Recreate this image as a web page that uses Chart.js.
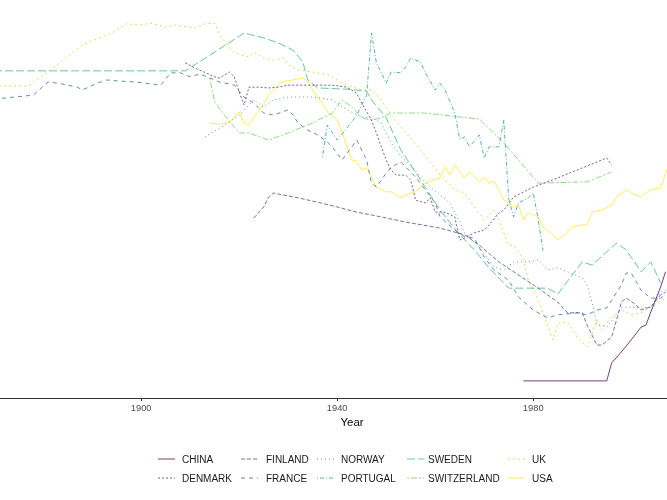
<!DOCTYPE html>
<html>
<head>
<meta charset="utf-8">
<script src="https://cdn.jsdelivr.net/npm/chart.js@4.4.0/dist/chart.umd.min.js"></script>
<style>
  html, body { margin: 0; padding: 0; background: #fff; }
</style>
</head>
<body>
<canvas id="rateChart" width="667" height="500"></canvas>
<script>
// Countries, in legend order (column by column)
const countries = ['CHINA', 'DENMARK', 'FINLAND', 'FRANCE', 'NORWAY',
                   'PORTUGAL', 'SWEDEN', 'SWITZERLAND', 'UK', 'USA'];

const yearTicks = [1900, 1940, 1980];

// [year, value] pairs (y axis is unlabelled, 0-100 index)
const CHINA = [[1978,4.3],[1995,4.3],[1996,8.8],[1998,11.6],[2000,14.6],[2002,17.8],[2003,18.3],[2004,21.6],[2006,27.9],[2007,31.7]];

const DENMARK = [[1909,84.2],[1911,82.9],[1915,80.7],[1916,80.4],[1918,81.9],[1919,80.7],[1920,76.9],[1921,73.6],[1922,78.1],[1924,78.1],
  [1926,77.9],[1928,78.1],[1930,78.6],[1935,78.6],[1939,78.6],[1942,78.1],[1944,76.6],[1945,74.1],[1947,69.8],[1948,66.6],
  [1949,63.1],[1950,59.8],[1951,57.3],[1952,56.0],[1954,56.0],[1955,54.8],[1956,49.7],[1958,49.0],[1959,50.3],[1960,46.7],
  [1962,46.7],[1964,45.5],[1965,39.7],[1966,40.2],[1968,41.5],[1970,42.2],[1971,43.5],[1973,46.5],[1974,47.2],[1976,50.5],
  [1980,53.0],[1984,54.8],[1988,56.8],[1992,58.8],[1995,60.3],[1996,58.5]];

const FINLAND = [[1923,45.2],[1925,48.0],[1926,50.5],[1927,51.5],[1929,51.0],[1932,50.3],[1936,49.2],[1940,48.0],[1944,46.7],[1947,46.0],
  [1954,44.2],[1961,42.7],[1966,41.0],[1969,38.4],[1973,34.2],[1977,30.9],[1981,27.6],[1985,24.1],[1987,21.4],[1990,21.4],
  [1991,18.3],[1993,13.3],[1994,13.3],[1996,15.3],[1997,19.6],[1998,24.1],[1999,25.1],[2001,23.4],[2002,22.1],[2004,22.9],
  [2006,25.9],[2007,26.6]];

const FRANCE = [[1870,75.1],[1874,75.6],[1878,76.1],[1881,79.4],[1883,79.1],[1887,78.1],[1888,77.4],[1891,79.1],[1893,79.9],[1896,79.6],
  [1899,79.4],[1902,78.9],[1904,78.6],[1906,81.7],[1908,81.7],[1910,80.7],[1912,81.4],[1916,79.4],[1919,78.6],[1921,75.6],
  [1923,74.1],[1925,71.6],[1927,71.1],[1930,72.4],[1931,71.1],[1932,69.1],[1934,67.3],[1936,66.1],[1938,64.3],[1939,63.1],
  [1941,59.8],[1944,64.8],[1946,59.8],[1947,54.0],[1948,53.0],[1950,56.5],[1951,58.0],[1953,59.3],[1954,58.0],[1956,55.5],
  [1958,52.3],[1960,49.0],[1961,45.5],[1964,42.2],[1966,40.5],[1968,40.2],[1970,35.4],[1972,32.2],[1975,29.6],[1977,25.4],
  [1980,22.1],[1983,20.1],[1985,20.9],[1989,21.4],[1991,20.9],[1993,22.1],[1995,22.6],[1996,24.6],[1998,28.4],[1999,31.4],
  [2000,31.4],[2002,27.1],[2004,25.1],[2006,25.1],[2007,25.9]];

const NORWAY = [[1913,65.6],[1916,67.8],[1918,69.3],[1920,71.1],[1922,73.6],[1923,74.9],[1925,73.1],[1927,74.9],[1930,75.6],[1935,75.6],
  [1939,74.9],[1942,72.4],[1945,70.6],[1947,70.4],[1949,69.1],[1951,64.1],[1953,60.6],[1955,58.5],[1957,55.5],[1959,53.0],
  [1961,51.0],[1963,49.0],[1965,44.2],[1966,41.5],[1969,37.9],[1972,32.9],[1974,32.2],[1976,34.2],[1979,34.2],[1981,34.7],
  [1983,32.2],[1985,32.7],[1987,31.7],[1990,30.2],[1991,28.4],[1992,24.1],[1993,18.3],[1994,18.3],[1995,17.8],[1998,22.6],
  [2000,22.9],[2002,22.6],[2004,22.9],[2006,26.6],[2007,27.1]];

const PORTUGAL = [[1937,60.6],[1938,68.6],[1940,64.8],[1942,67.8],[1944,71.1],[1946,76.0],[1947,91.7],[1948,84.2],[1949,81.7],[1950,79.1],
  [1951,81.9],[1953,81.7],[1954,83.2],[1955,85.4],[1957,84.4],[1958,81.7],[1960,77.4],[1961,79.1],[1962,77.4],[1964,71.6],
  [1965,65.0],[1966,65.6],[1967,63.1],[1969,66.1],[1970,60.3],[1971,63.1],[1973,63.1],[1974,69.8],[1975,50.0],[1976,45.5],
  [1977,49.0],[1979,50.3],[1980,51.5],[1981,45.0],[1982,37.0]];

const SWEDEN = [[1870,82.2],[1909,82.2],[1915,86.9],[1921,91.7],[1925,90.5],[1928,89.2],[1931,87.4],[1933,84.4],[1934,79.9],[1936,77.9],
  [1942,77.6],[1946,77.1],[1947,74.9],[1950,70.4],[1953,62.3],[1957,54.8],[1961,47.2],[1965,41.0],[1968,37.2],[1971,32.7],
  [1975,27.6],[1983,27.6],[1985,26.1],[1990,34.2],[1992,33.4],[1997,38.9],[1999,37.2],[2002,31.7],[2004,34.2],[2006,28.9]];

const SWITZERLAND = [[1914,80.4],[1915,74.4],[1917,71.1],[1920,66.6],[1922,66.6],[1926,64.8],[1930,66.6],[1935,69.1],[1939,71.6],[1941,74.9],
  [1943,73.1],[1945,70.4],[1947,69.8],[1949,70.4],[1951,71.6],[1958,71.6],[1965,70.6],[1969,70.1],[1974,64.1],[1977,59.8],
  [1981,54.0],[1991,54.3],[1996,56.8]];

const UK = [[1870,78.4],[1877,78.4],[1881,81.9],[1888,88.7],[1894,91.7],[1897,94.0],[1900,93.7],[1902,94.2],[1905,93.2],[1907,93.7],
  [1911,93.0],[1913,94.0],[1915,94.2],[1916,91.2],[1919,86.7],[1922,85.7],[1923,86.9],[1925,85.4],[1927,84.9],[1929,85.4],
  [1930,83.7],[1932,82.4],[1935,81.9],[1938,81.2],[1942,78.6],[1945,77.4],[1947,77.4],[1949,74.9],[1951,71.1],[1953,68.1],
  [1957,62.3],[1961,56.0],[1964,52.3],[1966,51.5],[1968,48.0],[1970,44.7],[1972,47.2],[1973,44.7],[1975,38.4],[1976,38.4],
  [1978,34.7],[1979,29.6],[1981,24.6],[1984,14.6],[1985,18.8],[1987,19.1],[1989,15.3],[1991,12.8],[1993,19.6],[1994,17.1],
  [1996,20.4],[1998,22.1],[2000,20.9],[2002,21.4],[2005,23.4],[2007,25.1]];

const USA = [[1914,69.1],[1916,68.8],[1918,69.3],[1920,71.9],[1921,69.1],[1922,68.6],[1923,70.4],[1925,73.9],[1926,76.1],[1928,78.6],
  [1929,79.6],[1931,79.9],[1933,80.4],[1934,79.4],[1935,77.4],[1936,75.4],[1937,74.1],[1938,71.9],[1940,69.8],[1941,66.8],
  [1942,63.1],[1943,59.8],[1944,59.5],[1945,57.3],[1946,57.8],[1947,55.5],[1948,53.0],[1950,51.8],[1951,51.8],[1953,50.3],
  [1955,51.5],[1956,51.8],[1958,54.0],[1961,55.3],[1962,58.0],[1963,56.0],[1964,58.5],[1966,55.3],[1967,56.8],[1968,55.5],
  [1969,54.3],[1970,55.5],[1971,54.0],[1972,54.5],[1973,52.3],[1974,49.7],[1975,49.0],[1976,48.0],[1977,48.5],[1978,44.7],
  [1979,46.5],[1981,45.5],[1982,43.0],[1984,41.0],[1985,39.7],[1986,40.5],[1988,43.0],[1990,43.5],[1991,43.5],[1992,46.7],
  [1994,47.2],[1996,48.5],[1997,50.5],[1999,52.3],[2000,51.5],[2002,50.5],[2003,51.5],[2004,52.3],[2006,52.8],[2007,56.5],
  [2008,59.8]];

const seriesData = [CHINA, DENMARK, FINLAND, FRANCE, NORWAY, PORTUGAL, SWEDEN, SWITZERLAND, UK, USA];

// viridis, slightly transparent
const lineColors = ['rgba(68,1,84,0.75)', 'rgba(72,40,120,0.75)', 'rgba(62,74,137,0.75)', 'rgba(49,104,142,0.75)',
  'rgba(38,130,142,0.75)', 'rgba(31,158,137,0.75)', 'rgba(53,183,121,0.75)', 'rgba(109,205,89,0.75)',
  'rgba(180,222,44,0.75)', 'rgba(253,231,37,0.75)'];
const lineDashes = [[], [2, 2], [4, 2], [4, 4], [1, 3], [1, 2, 4, 2], [8, 3], [2, 2, 6, 2], [2, 3], []];

// legend layout
const legendKeyX = [158, 241, 317, 407, 508];
const legendTextX = [182, 266, 341, 428, 532];
const legendRowY = [462.5, 481.5];

const bottomText = {
  id: 'bottomText',
  afterDraw(chart) {
    const ctx = chart.ctx;
    ctx.save();
    ctx.fillStyle = '#000000';
    ctx.font = '11.4px "Liberation Sans", Arial, sans-serif';
    ctx.textAlign = 'center';
    ctx.textBaseline = 'alphabetic';
    ctx.fillText('Year', 352, 426);

    ctx.font = '10px "Liberation Sans", Arial, sans-serif';
    ctx.textAlign = 'left';
    chart.data.datasets.forEach((ds, i) => {
      const col = Math.floor(i / 2);
      const y = legendRowY[i % 2];
      ctx.strokeStyle = ds.borderColor;
      ctx.lineWidth = 1;
      ctx.setLineDash(ds.borderDash);
      ctx.beginPath();
      ctx.moveTo(legendKeyX[col], y - 3.5);
      ctx.lineTo(legendKeyX[col] + 17, y - 3.5);
      ctx.stroke();
      ctx.setLineDash([]);
      ctx.fillStyle = '#1a1a1a';
      ctx.fillText(ds.label, legendTextX[col], y);
    });
    ctx.restore();
  }
};

const ctx = document.getElementById('rateChart').getContext('2d');
new Chart(ctx, {
  type: 'line',
  data: {
    datasets: countries.map((name, i) => ({
      label: name,
      data: seriesData[i].map(([x, y]) => ({ x, y })),
      borderColor: lineColors[i],
      borderWidth: 1,
      borderDash: lineDashes[i],
      pointRadius: 0,
      fill: false,
      tension: 0
    }))
  },
  options: {
    responsive: false,
    animation: false,
    layout: { padding: 0 },
    plugins: { legend: { display: false }, tooltip: { enabled: false } },
    scales: {
      x: {
        type: 'linear',
        min: 1871.2,
        max: 2007.3,
        afterBuildTicks: (s) => { s.ticks = yearTicks.map(v => ({ value: v })); },
        afterFit: (s) => { s.height = 102; },
        grid: { drawOnChartArea: false, drawTicks: true, tickLength: 3, color: '#333333' },
        border: { display: true, color: '#333333', width: 1 },
        ticks: {
          color: '#4d4d4d',
          padding: 2,
          maxRotation: 0,
          font: { family: '"Liberation Sans", Arial, sans-serif', size: 9.3 },
          callback: (v) => String(v)
        }
      },
      y: { display: false, min: 0, max: 100 }
    }
  },
  plugins: [bottomText]
});
</script>
</body>
</html>
